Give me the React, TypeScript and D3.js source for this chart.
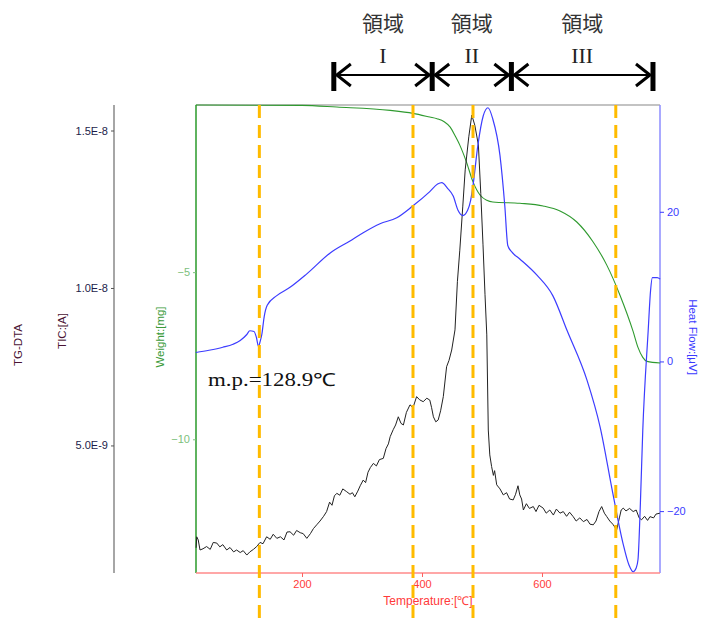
import React, { useEffect, useRef } from 'react';
import * as d3 from 'd3';

// axis ticks
const tempTicks = [200, 400, 600];
const ticTicks = [5e-9, 1e-8, 1.5e-8];
const weightTicks = [-5, -10];
const heatTicks = [20, 0, -20];

// dashed marker temperatures and region boundaries (deg C)
const markerTemps = [128.9, 385, 485, 723];
const regionNames = ['I', 'II', 'III'];
const regionBounds = [253, 417, 549, 785];

// DTA heat flow [T, uV]
const heatFlow = [
  [23, 1.2], [45, 1.5], [68, 1.9], [85, 2.3], [97, 2.8], [108, 3.6], [113, 4.1], [120, 4.0],
  [124, 3.2], [127.5, 2.0], [130, 2.6], [133, 3.6], [137, 6.0], [142, 7.5], [158, 8.8],
  [180, 9.9], [208, 11.7], [247, 14.5], [280, 16.1], [302, 17.2], [330, 18.4], [358, 19.2],
  [385, 20.8], [413, 22.7], [426, 23.7], [433, 23.9], [442, 23.2], [452, 22.1], [460, 20.2],
  [468, 19.5], [476, 20.2], [481, 21.5], [485, 23.5], [493, 28.8], [502, 32.8], [510, 33.9],
  [518, 32.4], [530, 27.5], [538, 20.8], [543, 15.5], [550, 14.6], [563, 13.7], [592, 11.5],
  [618, 8.8], [642, 4.1], [675, -2.5], [697, -8.8], [718, -17.6], [735, -24.3], [745, -27.2],
  [752, -28.1], [757, -27.6], [760, -26.5], [764, -19], [768, -9.2], [777, 4.1], [781, 9.5],
  [784, 11.2], [792, 11.2], [797, 11.0],
];

// TG weight [T, mg]
const weight = [
  [23, 0], [200, -0.01], [258, -0.06], [347, -0.16], [385, -0.25], [413, -0.36], [425, -0.41],
  [437, -0.5], [447, -0.66], [456, -0.95], [463, -1.2], [474, -1.7], [485, -2.3], [497, -2.7],
  [508, -2.85], [518, -2.9], [563, -2.94], [602, -3.02], [630, -3.17], [658, -3.5], [685, -4.09],
  [708, -4.79], [730, -5.69], [752, -6.78], [760, -7.25], [768, -7.55], [775, -7.67], [797, -7.72],
];

// TIC ion current [T, A]
const tic = [
  [23.5, 1.75e-9], [24.5, 2.1e-9], [27, 2.0e-9], [30, 1.68e-9], [35, 1.72e-9], [41, 1.79e-9],
  [47, 1.7e-9], [52, 1.92e-9], [58, 1.9e-9], [63, 1.78e-9], [68, 1.85e-9], [74.5, 1.68e-9],
  [80, 1.76e-9], [86, 1.62e-9], [91, 1.68e-9], [97, 1.6e-9], [102, 1.66e-9], [108, 1.52e-9],
  [113, 1.62e-9], [119, 1.7e-9], [124.5, 1.79e-9], [130, 1.92e-9], [135, 1.88e-9], [141, 2.1e-9],
  [147, 2.02e-9], [152, 2.18e-9], [158, 2.05e-9], [164, 2.1e-9], [170, 2.0e-9], [175, 2.25e-9],
  [180, 2.26e-9], [186, 2.15e-9], [191, 2.3e-9], [197, 2.23e-9], [202, 2.2e-9], [208, 2.05e-9],
  [214, 2.2e-9], [219, 2.36e-9], [224.5, 2.48e-9], [230, 2.6e-9], [236, 2.75e-9], [241, 2.9e-9],
  [246, 3.2e-9], [250, 3.1e-9], [254, 3.4e-9], [258, 3.48e-9], [263, 3.42e-9], [268, 3.62e-9],
  [274.5, 3.53e-9], [280, 3.45e-9], [284, 3.5e-9], [288, 3.37e-9], [293, 3.55e-9], [297, 3.72e-9],
  [302, 3.9e-9], [306, 3.82e-9], [310, 4.15e-9], [314, 4.3e-9], [319, 4.43e-9], [324, 4.35e-9],
  [329, 4.55e-9], [335.5, 4.59e-9], [340, 4.9e-9], [344, 5.05e-9], [347, 5.28e-9], [352, 5.5e-9],
  [356, 5.65e-9], [360.5, 5.91e-9], [365, 5.7e-9], [369, 5.65e-9], [374, 6.05e-9], [380, 6.29e-9],
  [385, 6.2e-9], [391, 6.55e-9], [396, 6.45e-9], [402, 6.39e-9], [408, 6.5e-9], [413, 6.44e-9],
  [416, 6.2e-9], [419, 5.91e-9], [423, 5.75e-9], [427, 5.81e-9], [431, 6.1e-9], [435.5, 6.55e-9],
  [441, 7.5e-9], [445, 7.7e-9], [449.5, 8.03e-9], [455, 8.67e-9], [459, 10.2e-9], [463, 11.2e-9],
  [468, 12.6e-9], [472, 13.75e-9], [478, 14.8e-9], [483, 15.49e-9], [488, 15.17e-9],
  [494, 14.54e-9], [498, 13.0e-9], [501.7, 11.37e-9], [505, 9.8e-9], [508, 8.51e-9],
  [510.5, 5.49e-9], [513, 4.7e-9], [516, 4.33e-9], [519, 4.05e-9], [521, 4.2e-9], [524.5, 3.75e-9],
  [530, 3.62e-9], [535.5, 3.43e-9], [541, 3.5e-9], [546, 3.3e-9], [552, 3.27e-9], [556, 3.45e-9],
  [560, 3.72e-9], [563, 3.43e-9], [566, 3.3e-9], [569, 2.95e-9], [574, 3.15e-9], [579, 3.0e-9],
  [585.5, 3.06e-9], [590, 2.9e-9], [595, 3.1e-9], [602, 3.01e-9], [607, 2.85e-9], [613, 2.95e-9],
  [619, 2.79e-9], [624, 2.98e-9], [630, 2.85e-9], [635.5, 2.9e-9], [641, 2.75e-9], [646, 2.88e-9],
  [652, 2.74e-9], [657, 2.6e-9], [663, 2.7e-9], [669, 2.58e-9], [675, 2.65e-9], [680, 2.5e-9],
  [685.5, 2.48e-9], [690, 2.6e-9], [695, 2.9e-9], [699.5, 3.06e-9], [704, 2.85e-9], [708, 2.74e-9],
  [713, 2.6e-9], [718, 2.5e-9], [724.5, 2.32e-9], [729, 2.7e-9], [732, 2.95e-9], [735.5, 3.01e-9],
  [740, 2.92e-9], [746, 3.0e-9], [752, 2.9e-9], [757, 2.95e-9], [762, 2.7e-9], [766, 2.64e-9],
  [771, 2.75e-9], [776, 2.62e-9], [780, 2.74e-9], [786, 2.7e-9], [790, 2.82e-9], [796.5, 2.85e-9],
];

const sans = 'Liberation Sans, Arial, sans-serif';

const App = () => {
  const ref = useRef(null);

  useEffect(() => {
    const svg = d3.select(ref.current);
    svg.selectAll('*').remove();

    const left = 196, right = 660, top = 105, bottom = 573;

    const x = d3.scaleLinear().domain([23.3, 796.7]).range([left, right]);
    const yTic = d3.scaleLinear().domain([0.95e-9, 1.581e-8]).range([bottom, top]);
    const yW = d3.scaleLinear().domain([-14, 0]).range([bottom, top]);
    const yH = d3.scaleLinear().domain([-28.27, 34.27]).range([bottom, top]);

    // frame top line
    svg.append('line')
      .attr('x1', left).attr('x2', right).attr('y1', top).attr('y2', top)
      .attr('stroke', '#888').attr('stroke-width', 1.2);

    // TIC axis (grey, outer left)
    const ticAxis = d3.axisLeft(yTic).tickValues(ticTicks).tickSize(3)
      .tickFormat(d => {
        const e = Math.floor(Math.log10(d) + 1e-9);
        return (d / Math.pow(10, e)).toFixed(1) + 'E' + e;
      });
    const gTic = svg.append('g').attr('transform', 'translate(114,0)').call(ticAxis);
    gTic.select('.domain').attr('stroke', '#888').attr('stroke-width', 1.5).attr('d', `M0,${top}V${bottom}`);
    gTic.selectAll('.tick line').attr('stroke', '#555');
    gTic.selectAll('text').attr('fill', '#1c1c4a').attr('font-size', 11).attr('font-family', sans);

    // Weight axis (green)
    const gW = svg.append('g').attr('transform', `translate(${left},0)`)
      .call(d3.axisLeft(yW).tickValues(weightTicks).tickSize(3));
    gW.select('.domain').attr('stroke', '#2a9a2a').attr('stroke-width', 1.5).attr('d', `M0,${top}V${bottom}`);
    gW.selectAll('.tick line').attr('stroke', '#7cc07c');
    gW.selectAll('text').attr('fill', '#7cbf7c').attr('font-size', 11).attr('font-family', sans);

    // Heat flow axis (blue, right)
    const gH = svg.append('g').attr('transform', `translate(${right},0)`)
      .call(d3.axisRight(yH).tickValues(heatTicks).tickSize(4));
    gH.select('.domain').attr('stroke', '#8c8cff').attr('stroke-width', 1.5).attr('d', `M0,${top}V${bottom}`);
    gH.selectAll('.tick line').attr('stroke', '#3a3aff');
    gH.selectAll('text').attr('fill', '#3a3aff').attr('font-size', 11).attr('font-family', sans);

    // Temperature axis (red)
    const gX = svg.append('g').attr('transform', `translate(0,${bottom})`)
      .call(d3.axisBottom(x).tickValues(tempTicks).tickSize(4));
    gX.select('.domain').attr('stroke', '#ff8a8a').attr('stroke-width', 1.5).attr('d', `M${left},0H${right}`);
    gX.selectAll('.tick line').attr('stroke', '#ff6060');
    gX.selectAll('text').attr('fill', '#ff3a3a').attr('font-size', 11).attr('font-family', sans);

    // axis titles
    const vTitle = (tx, ty, rot, txt, color) =>
      svg.append('text')
        .attr('transform', `translate(${tx},${ty}) rotate(${rot})`)
        .attr('text-anchor', 'middle').attr('font-family', sans).attr('font-size', 11.5)
        .attr('fill', color).text(txt);
    vTitle(22, 345, -90, 'TG-DTA', '#4a1434');
    vTitle(66, 331, -90, 'TIC:[A]', '#4a1434');
    vTitle(164, 337, -90, 'Weight:[mg]', '#3a9a3a');
    vTitle(689, 337, 90, 'Heat Flow:[\u03bcV]', '#3a3aff');
    svg.append('text')
      .attr('x', 428).attr('y', 605).attr('text-anchor', 'middle')
      .attr('font-family', sans).attr('font-size', 12).attr('fill', '#ff3a3a')
      .text('Temperature:[\u2103]');

    // curves
    const lineW = d3.line().x(d => x(d[0])).y(d => yW(d[1])).curve(d3.curveMonotoneX);
    const lineH = d3.line().x(d => x(d[0])).y(d => yH(d[1])).curve(d3.curveMonotoneX);
    const lineT = d3.line().x(d => x(d[0])).y(d => yTic(d[1]));

    svg.append('path').attr('d', lineW(weight)).attr('fill', 'none')
      .attr('stroke', '#2f9a2f').attr('stroke-width', 1.1);
    svg.append('path').attr('d', lineT(tic)).attr('fill', 'none')
      .attr('stroke', '#222').attr('stroke-width', 1);
    svg.append('path').attr('d', lineH(heatFlow)).attr('fill', 'none')
      .attr('stroke', '#3c3cff').attr('stroke-width', 1.2);

    // dashed markers
    svg.selectAll('.marker').data(markerTemps).enter().append('line')
      .attr('x1', d => x(d)).attr('x2', d => x(d))
      .attr('y1', top).attr('y2', 620)
      .attr('stroke', '#ffbb00').attr('stroke-width', 3)
      .attr('stroke-dasharray', '13,7');

    // m.p. label
    svg.append('text')
      .attr('x', 208).attr('y', 386)
      .attr('font-family', 'Liberation Serif, serif').attr('font-size', 18)
      .attr('fill', '#111').attr('textLength', 128).attr('lengthAdjust', 'spacingAndGlyphs')
      .text('m.p.=128.9\u2103');

    // region arrows
    const ay = 75;
    const bx = regionBounds.map(d => x(d));
    regionNames.forEach((name, i) => {
      const x0 = bx[i], x1 = bx[i + 1], cx = (x0 + x1) / 2;
      svg.append('text').attr('x', cx).attr('y', 31).attr('text-anchor', 'middle')
        .attr('font-family', 'Noto Sans CJK JP, sans-serif').attr('font-size', 21)
        .attr('fill', '#333').text('領域');
      svg.append('text').attr('x', cx).attr('y', 63).attr('text-anchor', 'middle')
        .attr('font-family', 'Liberation Serif, serif').attr('font-size', 22)
        .attr('fill', '#222').text(name);
      svg.append('line').attr('x1', x0 + 2).attr('x2', x1 - 2).attr('y1', ay).attr('y2', ay)
        .attr('stroke', '#000').attr('stroke-width', 2.2);
      svg.append('path')
        .attr('d', `M${x0 + 17},${ay - 11}L${x0 + 3},${ay}L${x0 + 17},${ay + 11}`)
        .attr('fill', 'none').attr('stroke', '#000').attr('stroke-width', 3);
      svg.append('path')
        .attr('d', `M${x1 - 17},${ay - 11}L${x1 - 3},${ay}L${x1 - 17},${ay + 11}`)
        .attr('fill', 'none').attr('stroke', '#000').attr('stroke-width', 3);
    });
    bx.forEach(b => {
      svg.append('line').attr('x1', b).attr('x2', b).attr('y1', 62).attr('y2', 91)
        .attr('stroke', '#000').attr('stroke-width', 5);
    });
  }, []);

  return (
    <svg
      ref={ref}
      width={701}
      height={620}
      style={{ position: 'absolute', left: 0, top: 0, background: '#fff' }}
    ></svg>
  );
};

export default App;
